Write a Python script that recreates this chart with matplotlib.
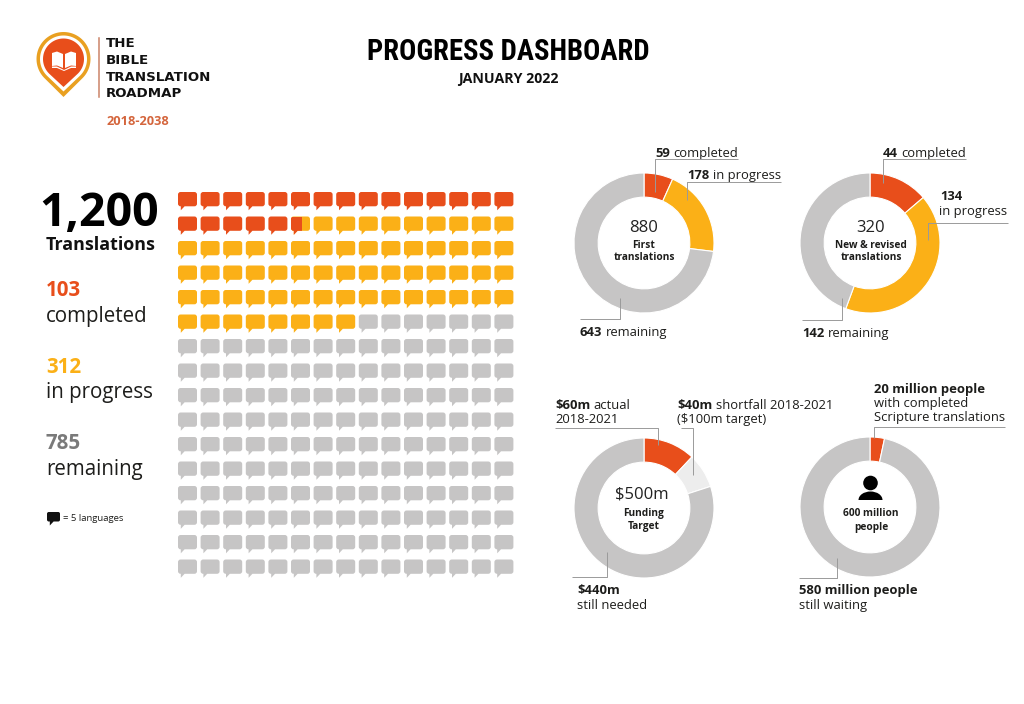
import matplotlib
matplotlib.use("Agg")
import matplotlib.pyplot as plt
from matplotlib.patches import Circle, Ellipse, PathPatch, Polygon, Rectangle
from matplotlib.path import Path
import numpy as np

W, H = 1024, 704
RED, ORANGE, GREY, LIGHT = "#E84E1B", "#FBB017", "#C6C5C5", "#EDEDED"
BODY = ["Open Sans", "DejaVu Sans"]
TITLE = ["Roboto Condensed", "Open Sans Condensed", "Liberation Sans Narrow", "Lato", "DejaVu Sans"]

# Data
total = 1200
completed = 103
in_progress = 312
remaining = 785
per_icon = 5
cols, rows = 15, 16

first_values = [59, 178, 643]
revised_values = [44, 134, 142]
funding_values = [60, 40, 400]
people_values = [20, 580]
first_colors = [RED, ORANGE, GREY]
funding_colors = [RED, LIGHT, GREY]
people_colors = [RED, GREY]

import logging
logging.getLogger("matplotlib.font_manager").setLevel(logging.ERROR)

fig = plt.figure(figsize=(W / 100, H / 100), dpi=100, facecolor="white")
plt.rcParams["font.family"] = BODY
ax = fig.add_axes([0, 0, 1, 1])
ax.set_xlim(0, W)
ax.set_ylim(H, 0)
ax.axis("off")


def txt(x, y, s, size, weight="normal", color="#1d1d1b", ha="left", family=BODY, **kw):
    return ax.text(x, y, s, fontsize=size, fontweight=weight, color=color, ha=ha,
                   va="baseline", family=family, **kw)


def rich(x, y, bold, regular, size=9.4):
    t = txt(x, y, bold, size, "bold")
    bb = t.get_window_extent(fig.canvas.get_renderer())
    txt(bb.x1 + size * 0.36, y, regular, size)


def leader(xs, ys):
    ax.plot(xs, ys, color="#9a9a9a", lw=0.7, solid_capstyle="butt", zorder=5)


def donut(cx, cy, values, colors, r=70):
    a = fig.add_axes([(cx - r - 2) / W, 1 - (cy + r + 2) / H, (2 * r + 4) / W, (2 * r + 4) / H])
    a.pie(values, colors=colors, startangle=90, counterclock=False, radius=r / (r + 2),
          wedgeprops=dict(width=0.345 * r / (r + 2), edgecolor="white", linewidth=0.8))
    a.set_xlim(-1, 1)
    a.set_ylim(-1, 1)
    a.patch.set_alpha(0)


# Header: logo
def pin(cx, cy, r, tip):
    th0 = np.arcsin(r / (tip - cy))
    pts = [(cx + r * np.cos(t), cy - r * np.sin(t)) for t in np.linspace(-th0, np.pi + th0, 80)]
    pts.append((cx, tip))
    return Polygon(pts, closed=True)


for r, tip, c in [(27, 97, "#E9A021"), (23.5, 91.5, "white"), (20.5, 87, RED)]:
    p = pin(63.5, 59, r, tip)
    p.set_facecolor(c)
    p.set_edgecolor("none")
    ax.add_patch(p)
ax.add_patch(Polygon([(52, 53), (57, 51.5), (63, 54), (63, 68), (57, 65.5), (52, 66)], fc="white", ec="none"))
ax.add_patch(Polygon([(65, 54), (71, 51.5), (76, 53), (76, 66), (71, 65.5), (65, 68)], fc="white", ec="none"))
ax.add_patch(Polygon([(52, 66.5), (57, 66.5), (64, 70), (71, 66.5), (76, 66.5), (76, 68), (71, 68),
                      (64, 71), (57, 68), (52, 68)], fc="white", ec="none"))
ax.plot([99, 99], [38, 97], color="#CC8468", lw=1.1)
for y, s in zip([47, 64, 81, 97], ["THE", "BIBLE", "TRANSLATION", "ROADMAP"]):
    txt(106, y, s, 9.6, "bold", "#111111", family=["DejaVu Sans"])
txt(107, 125, "2018-2038", 9.2, "bold", "#D4653C")

txt(508, 60, "PROGRESS DASHBOARD", 20.6, "black", "black", ha="center", family=TITLE)
txt(508, 83, "JANUARY 2022", 10.2, "bold", "#111111", ha="center")

# Left column
txt(99, 226, f"{total:,}", 33.5, "bold", "black", ha="center")
txt(46, 250, "Translations", 12.9, "bold", "#111111")
txt(46, 296, str(completed), 14.8, "bold", RED)
txt(46, 322, "completed", 14.8)
txt(46, 373, str(in_progress), 14.8, "bold", ORANGE)
txt(46, 398, "in progress", 14.8)
txt(46, 449, str(remaining), 14.8, "bold", "#7a7a7a")
txt(46, 475, "remaining", 14.8)
txt(63, 521, f"= {per_icon} languages", 6.8)


# Speech bubble, in pixels, origin at its top-left
def bubble_path(w=19.0, h=14.3, rad=2.6, scale=(1, 1), off=(0, 0)):
    M, L, C = Path.MOVETO, Path.LINETO, Path.CURVE3
    v = [(rad, 0), (w - rad, 0), (w, 0), (w, rad), (w, h - rad), (w, h), (w - rad, h),
         (6.6, h), (2.8, h + 4.0), (2.8, h), (rad, h), (0, h), (0, h - rad), (0, rad), (0, 0), (rad, 0)]
    c = [M, L, C, C, L, C, C, L, L, L, L, C, C, L, C, C]
    arr = np.array(v) * np.array(scale) + np.array(off)
    return Path(arr, c)


ax.add_patch(PathPatch(bubble_path(13, 9.5, 1.8, off=(47, 512)), fc="#111111", ec="none"))

# Waffle
pitch_x, pitch_y = 22.6, 24.5
wa = fig.add_axes([178 / W, 1 - (192 + rows * pitch_y) / H, cols * pitch_x / W, rows * pitch_y / H])
wa.set_xlim(0, cols)
wa.set_ylim(rows, 0)
wa.axis("off")
scale = (1 / pitch_x, 1 / pitch_y)
done_end = completed
prog_end = completed + in_progress
for i in range(total // per_icon):
    r, c = divmod(i, cols)
    lo, hi = i * per_icon, (i + 1) * per_icon
    path = bubble_path(scale=scale, off=(c, r))
    if hi <= done_end:
        base = RED
    elif lo < prog_end:
        base = ORANGE
    else:
        base = GREY
    wa.add_patch(PathPatch(path, fc=base, ec="none"))
    if lo < done_end < hi:
        frac = (done_end - lo) / per_icon
        p = PathPatch(path, fc=RED, ec="none")
        wa.add_patch(p)
        clip = Rectangle((c, r), frac * 19 / pitch_x, 1, transform=wa.transData)
        p.set_clip_path(clip)

# Donuts
donut(644, 243, first_values, first_colors)
donut(870, 243, revised_values, first_colors)
donut(644, 508, funding_values, funding_colors)
donut(870, 507, people_values, people_colors)

# Donut centres
txt(644, 232, str(sum(first_values)), 12, color="#222222", ha="center")
txt(644, 248, "First", 7.3, "bold", ha="center")
txt(644, 260, "translations", 7.3, "bold", ha="center")
txt(871, 232, str(sum(revised_values)), 12, color="#222222", ha="center")
txt(871, 248, "New & revised", 7.3, "bold", ha="center")
txt(871, 260, "translations", 7.3, "bold", ha="center")
txt(642, 499, f"${sum(funding_values)}m", 12, color="#222222", ha="center")
txt(644, 516, "Funding", 7.3, "bold", ha="center")
txt(644, 529, "Target", 7.3, "bold", ha="center")
txt(871, 516, f"{sum(people_values)} million", 7.3, "bold", ha="center")
txt(871, 530, "people", 7.3, "bold", ha="center")
ax.set_zorder(3)
ax.patch.set_alpha(0)
ax.add_patch(Circle((870.5, 483), 7.3, fc="black", ec="none"))
ax.add_patch(Ellipse((870.5, 500), 24, 17, fc="black", ec="none"))
ax.add_patch(Rectangle((857, 500), 27, 9.5, fc="white", ec="none"))

# Labels and leaders
rich(655, 157, str(first_values[0]), "completed")
leader([738, 655, 655], [159, 159, 192])
rich(687, 179, str(first_values[1]), "in progress")
leader([781, 687, 687], [182, 182, 200])
rich(580, 336, str(first_values[2]), "remaining")
leader([580, 620, 620], [319, 319, 298])

rich(883, 157, str(revised_values[0]), "completed")
leader([966, 883, 883], [159, 159, 183])
txt(940, 200, str(revised_values[1]), 9.4, "bold")
txt(939, 215, "in progress", 9.4)
leader([1008, 928, 928], [223, 223, 240])
rich(802, 337, str(revised_values[2]), "remaining")
leader([802, 842, 842], [320, 320, 298])

rich(555, 409, f"${funding_values[0]}m", "actual")
txt(555, 423, "2018-2021", 9.4)
leader([555, 658, 658], [428, 428, 445])
rich(677, 409, f"${funding_values[1]}m", "shortfall 2018-2021")
txt(677, 423, "($100m target)", 9.4)
leader([681, 693, 693], [428, 428, 475])
txt(577, 594, f"${funding_values[1] + funding_values[2]}m", 9.4, "bold")
txt(577, 609, "still needed", 9.4)
leader([572, 607, 607], [577, 577, 552])

txt(874, 393, f"{people_values[0]} million people", 9.4, "bold")
txt(874, 407, "with completed", 9.4)
txt(874, 421, "Scripture translations", 9.4)
leader([1005, 874, 874], [427, 427, 438])
txt(799, 594, f"{people_values[1]} million people", 9.4, "bold")
txt(799, 609, "still waiting", 9.4)
leader([799, 837, 837], [578, 578, 558])

fig.savefig("out.png", dpi=100, facecolor="white")
